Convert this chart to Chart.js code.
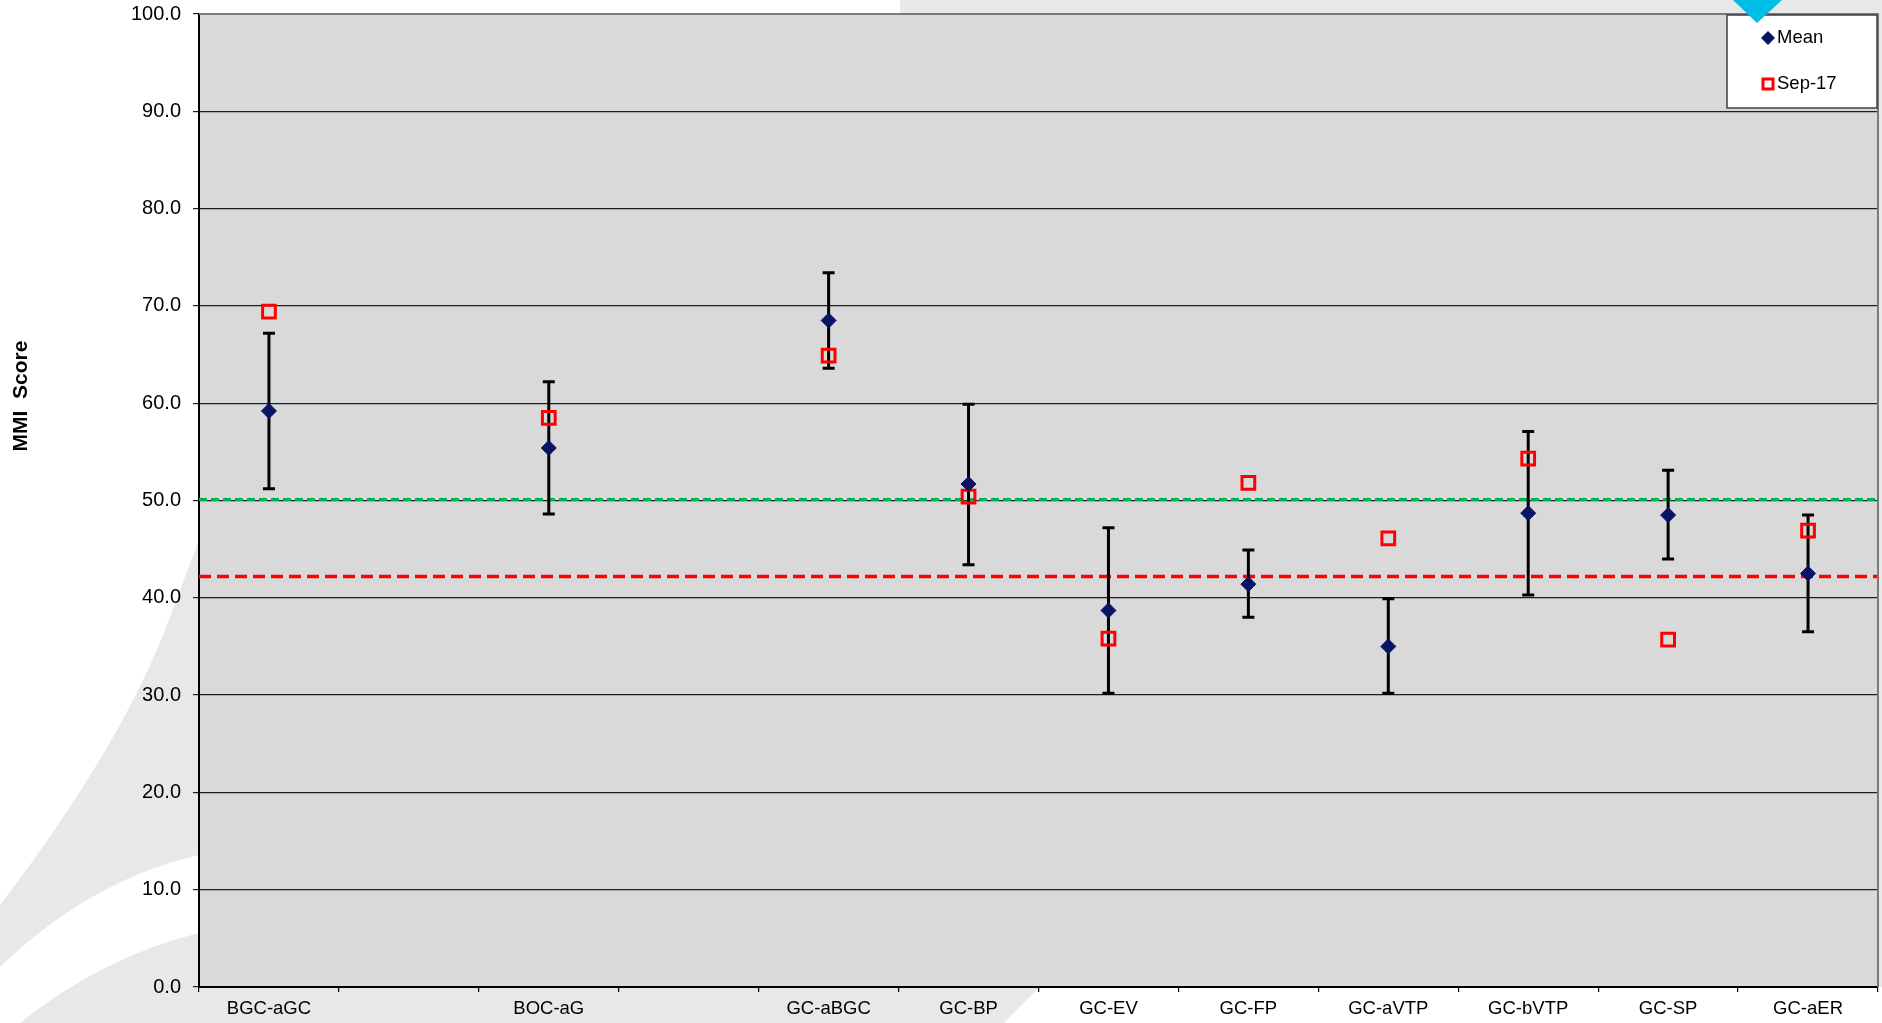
<!DOCTYPE html>
<html>
<head>
<meta charset="utf-8">
<script src="https://cdn.jsdelivr.net/npm/chart.js@4.4.1/dist/chart.umd.min.js"></script>
<style>
  html, body { margin: 0; padding: 0; overflow: hidden; background: #ffffff; }
  #wrap { width: 1882px; height: 1023px; position: relative; }
</style>
</head>
<body>
<div id="wrap"><canvas id="c" width="1882" height="1023"></canvas></div>
<script>
// ---- data ----
const categories = ['BGC-aGC', '', 'BOC-aG', '', 'GC-aBGC', 'GC-BP', 'GC-EV', 'GC-FP', 'GC-aVTP', 'GC-bVTP', 'GC-SP', 'GC-aER'];
const meanValues = [59.2, null, 55.4, null, 68.5, 51.7, 38.7, 41.4, 35.0, 48.7, 48.5, 42.5];
const errorHigh  = [67.2, null, 62.2, null, 73.4, 59.9, 47.2, 44.9, 39.9, 57.1, 53.1, 48.5];
const errorLow   = [51.2, null, 48.6, null, 63.6, 43.4, 30.2, 38.0, 30.2, 40.3, 44.0, 36.5];
const sep17Values = [69.4, null, 58.5, null, 64.9, 50.4, 35.8, 51.8, 46.1, 54.3, 35.7, 46.9];
const greenRefValue = 50.1;
const redRefValue = 42.2;
const yMin = 0, yMax = 100, yStep = 10;
const yTitle = 'MMI  Score';
const seriesNames = ['Mean', 'Sep-17'];

const FONT = '"Liberation Sans", Arial, Helvetica, sans-serif';
const NAVY = '#0a1464';

const decorPlugin = {
  id: 'decor',
  beforeDraw(chart) {
    const ctx = chart.ctx, W = chart.width, H = chart.height, a = chart.chartArea;
    ctx.save();
    ctx.fillStyle = '#e8e8e8';
    ctx.fillRect(0, 0, W, H);
    ctx.fillStyle = '#ffffff';
    // top-left white region
    ctx.beginPath();
    ctx.moveTo(0, 0);
    ctx.lineTo(900, 0);
    ctx.lineTo(900, a.top);
    ctx.lineTo(a.left, a.top);
    ctx.lineTo(a.left, 540);
    ctx.lineTo(165, 630);
    ctx.quadraticCurveTo(117, 752, 0, 905);
    ctx.closePath();
    ctx.fill();
    // white swoosh band lower left
    ctx.beginPath();
    ctx.moveTo(0, 967);
    ctx.quadraticCurveTo(90, 880, a.left, 855);
    ctx.lineTo(a.left, 933);
    ctx.quadraticCurveTo(90, 960, 0, 1040);
    ctx.closePath();
    ctx.fill();
    // bottom right white
    ctx.beginPath();
    ctx.moveTo(1040, a.bottom);
    ctx.lineTo(W, a.bottom);
    ctx.lineTo(W, H);
    ctx.lineTo(1004, H);
    ctx.closePath();
    ctx.fill();
    // plot area
    ctx.fillStyle = '#d9d9d9';
    ctx.fillRect(a.left, a.top, a.right - a.left, a.bottom - a.top);
    ctx.restore();
  },
  beforeDatasetsDraw(chart) {
    const ctx = chart.ctx, a = chart.chartArea, ys = chart.scales.y;
    ctx.save();
    // reference lines
    const gy = ys.getPixelForValue(greenRefValue);
    ctx.strokeStyle = '#00b050';
    ctx.lineWidth = 3;
    ctx.setLineDash([8, 4]);
    ctx.beginPath(); ctx.moveTo(a.left, gy); ctx.lineTo(a.right, gy); ctx.stroke();
    const ry = ys.getPixelForValue(redRefValue);
    ctx.strokeStyle = '#ff0000';
    ctx.lineWidth = 3.5;
    ctx.setLineDash([12, 6]);
    ctx.beginPath(); ctx.moveTo(a.left, ry); ctx.lineTo(a.right, ry); ctx.stroke();
    ctx.setLineDash([]);
    // error bars
    ctx.strokeStyle = '#000000';
    ctx.lineWidth = 3;
    for (let i = 0; i < categories.length; i++) {
      if (errorHigh[i] == null || errorLow[i] == null) continue;
      const x = chart.scales.x.getPixelForValue(i);
      const yt = ys.getPixelForValue(errorHigh[i]);
      const yb = ys.getPixelForValue(errorLow[i]);
      ctx.beginPath();
      ctx.moveTo(x, yt); ctx.lineTo(x, yb);
      ctx.moveTo(x - 6, yt); ctx.lineTo(x + 6, yt);
      ctx.moveTo(x - 6, yb); ctx.lineTo(x + 6, yb);
      ctx.stroke();
    }
    ctx.restore();
  },
  afterDraw(chart) {
    const ctx = chart.ctx, a = chart.chartArea;
    ctx.save();
    // plot border top/right
    ctx.strokeStyle = '#7a7a7a';
    ctx.lineWidth = 2;
    ctx.beginPath();
    ctx.moveTo(a.left, a.top); ctx.lineTo(a.right, a.top); ctx.lineTo(a.right, a.bottom);
    ctx.stroke();
    // y title
    ctx.fillStyle = '#000';
    ctx.font = 'bold 21px ' + FONT;
    ctx.textAlign = 'center';
    ctx.textBaseline = 'middle';
    ctx.translate(21, 396);
    ctx.rotate(-Math.PI / 2);
    ctx.fillText(yTitle, 0, 0);
    ctx.restore();

    // legend
    ctx.save();
    const lx = 1727, ly = 15, lw = 150, lh = 93;
    ctx.fillStyle = '#ffffff';
    ctx.fillRect(lx, ly, lw, lh);
    ctx.strokeStyle = '#404040';
    ctx.lineWidth = 1.5;
    ctx.strokeRect(lx, ly, lw, lh);
    const mx = 1768;
    ctx.fillStyle = NAVY;
    ctx.beginPath();
    ctx.moveTo(mx - 7, 38); ctx.lineTo(mx, 31); ctx.lineTo(mx + 7, 38); ctx.lineTo(mx, 45);
    ctx.closePath(); ctx.fill();
    ctx.strokeStyle = '#ff0000';
    ctx.lineWidth = 3;
    ctx.strokeRect(mx - 5, 84 - 5, 10, 10);
    ctx.fillStyle = '#000';
    ctx.font = '18.5px ' + FONT;
    ctx.textAlign = 'left';
    ctx.textBaseline = 'middle';
    ctx.fillText(chart.data.datasets[0].label, 1777, 38);
    ctx.fillText(chart.data.datasets[1].label, 1777, 84);
    // cyan triangle decoration
    ctx.fillStyle = '#00bde6';
    ctx.beginPath();
    ctx.moveTo(1733, 0); ctx.lineTo(1782, 0); ctx.lineTo(1757, 23);
    ctx.closePath(); ctx.fill();
    ctx.restore();
  }
};

new Chart(document.getElementById('c'), {
  type: 'line',
  data: {
    labels: categories,
    datasets: [
      {
        label: seriesNames[0],
        data: meanValues,
        showLine: false,
        pointStyle: 'rectRot',
        pointRadius: 7.5,
        pointBackgroundColor: NAVY,
        pointBorderColor: NAVY,
        pointBorderWidth: 1,
        order: 0
      },
      {
        label: seriesNames[1],
        data: sep17Values,
        showLine: false,
        pointStyle: 'rect',
        pointRadius: 9,
        pointBackgroundColor: 'rgba(0,0,0,0)',
        pointBorderColor: '#ff0000',
        pointBorderWidth: 3,
        order: 1
      }
    ]
  },
  options: {
    responsive: false,
    animation: false,
    events: [],
    layout: { autoPadding: false, padding: { left: 0, right: 4, top: 14, bottom: 0 } },
    plugins: { legend: { display: false }, tooltip: { enabled: false } },
    scales: {
      x: {
        type: 'category',
        offset: true,
        afterFit(s) { s.height = 36; s.paddingLeft = 0; s.paddingRight = 0; },
        grid: { display: true, drawOnChartArea: false, drawTicks: true, tickLength: 5, offset: true, color: '#000', lineWidth: 1.2 },
        border: { color: '#000', width: 2 },
        ticks: { color: '#000', font: { family: FONT, size: 18.5 }, padding: 6, maxRotation: 0, autoSkip: false }
      },
      y: {
        min: yMin, max: yMax,
        afterFit(s) { s.width = 199; s.paddingTop = 0; s.paddingBottom = 0; },
        grid: { color: '#1e1e1e', lineWidth: 1.2, tickLength: 6, drawTicks: true },
        border: { color: '#000', width: 2 },
        ticks: { stepSize: yStep, color: '#000', padding: 12, font: { family: FONT, size: 20 }, callback: v => Number(v).toFixed(1) }
      }
    }
  },
  plugins: [decorPlugin]
});
</script>
</body>
</html>
